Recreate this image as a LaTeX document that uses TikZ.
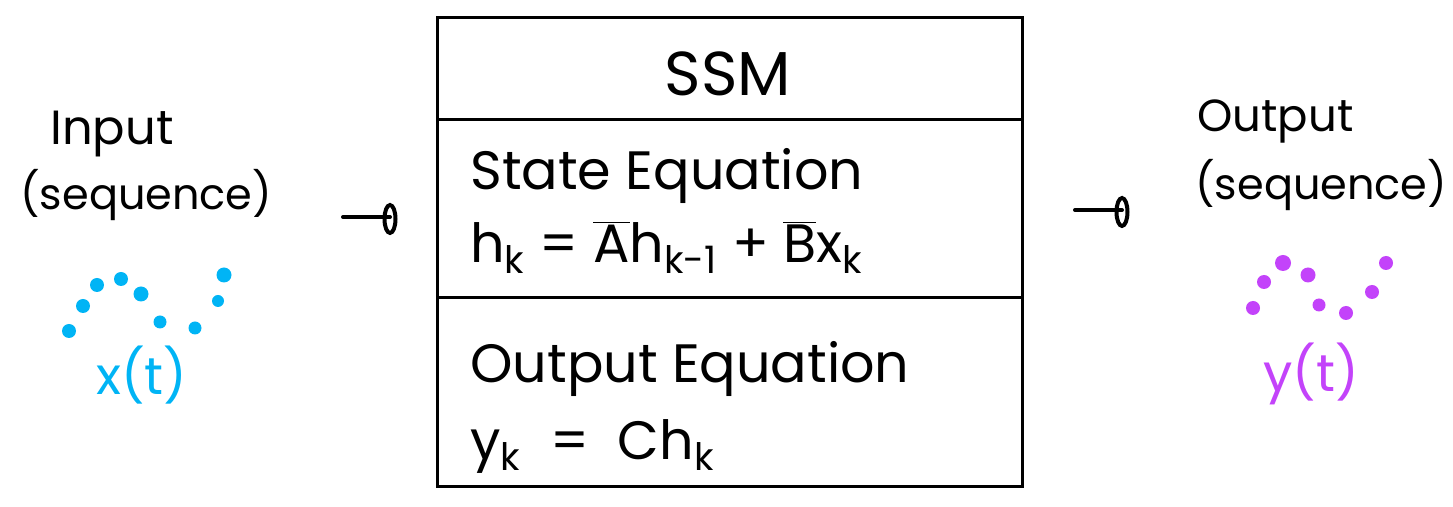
\documentclass[tikz,border=0pt]{standalone}
\usepackage{fontspec}
\setmainfont{Poppins}
\definecolor{inblue}{HTML}{00B4F5}
\definecolor{outpurple}{HTML}{C343FA}
\newcommand{\barred}[1]{$\overline{\mbox{#1}}$}
\begin{document}
\begin{tikzpicture}[x=0.5pt,y=-0.5pt,
  txt/.style={inner sep=0pt, anchor=base west, font=\fontsize{27}{32}\selectfont},
  side/.style={inner sep=0pt, anchor=base west, font=\fontsize{21.5}{26}\selectfont},
  sidehead/.style={inner sep=0pt, anchor=base west, font=\fontsize{24}{28}\selectfont},
  sig/.style={inner sep=0pt, anchor=base west, font=\fontsize{26}{30}\selectfont},
  big/.style={inner sep=0pt, font=\fontsize{31}{36}\selectfont},
  frame/.style={draw=black, line width=1.5pt},
  wire/.style={draw=black, line width=2pt, line cap=round},
  tip/.style={draw=black, line width=2pt},
  bdot/.style={fill=inblue},
  pdot/.style={fill=outpurple}]
\useasboundingbox (0,0) rectangle (1453,507);
% box
\draw[frame] (437,18) rectangle (1022,487);
\draw[frame] (437,120) -- (1022,120);
\draw[frame] (437,298) -- (1022,298);
\node[big] (ssm) at (728,74) {SSM};
\node[txt] (st) at (470,190) {State Equation};
\node[txt] (se) at (470,263) {h\textsubscript{k} = \barred{A}h\textsubscript{k-1} + \barred{B}x\textsubscript{k}};
\node[txt] (ot) at (470,383) {Output Equation};
\node[txt] (oe) at (470,460) {y\textsubscript{k}\ \ =\ \ Ch\textsubscript{k}};
% input
\node[sidehead] (inp) at (50,145) {Input};
\node[side] (inseq) at (20,210) {(sequence)};
\node[sig, text=inblue] (xt) at (96,395) {x(t)};
\fill[bdot] (69,331) circle (7);
\fill[bdot] (83,306) circle (7);
\fill[bdot] (97,285) circle (7);
\fill[bdot] (121,279) circle (7);
\fill[bdot] (141,294) circle (7.5);
\fill[bdot] (160,322) circle (6.5);
\fill[bdot] (195,328) circle (6.5);
\fill[bdot] (218,301) circle (6);
\fill[bdot] (224,275) circle (7.5);
% output
\node[side, font=\fontsize{22.5}{27}\selectfont] (outp) at (1197,132) {Output};
\node[side] (outseq) at (1195,200) {(sequence)};
\node[sig, text=outpurple] (yt) at (1263,392) {y(t)};
\fill[pdot] (1253,308) circle (7);
\fill[pdot] (1264,282) circle (7);
\fill[pdot] (1283,263) circle (8);
\fill[pdot] (1308,275) circle (7.5);
\fill[pdot] (1319,305) circle (6.5);
\fill[pdot] (1346,313) circle (7);
\fill[pdot] (1372,292) circle (7);
\fill[pdot] (1386,263) circle (7);
% arrows
\coordinate (a1s) at (343,217);
\coordinate (a1e) at (390,217);
\draw[wire] (a1s) -- (a1e);
\draw[tip] (a1e) ++(0,2) ellipse (5.5 and 14);
\coordinate (a2s) at (1075,210);
\coordinate (a2e) at (1122,210);
\draw[wire] (a2s) -- (a2e);
\draw[tip] (a2e) ++(0,2) ellipse (5.5 and 14);
\end{tikzpicture}
\end{document}
